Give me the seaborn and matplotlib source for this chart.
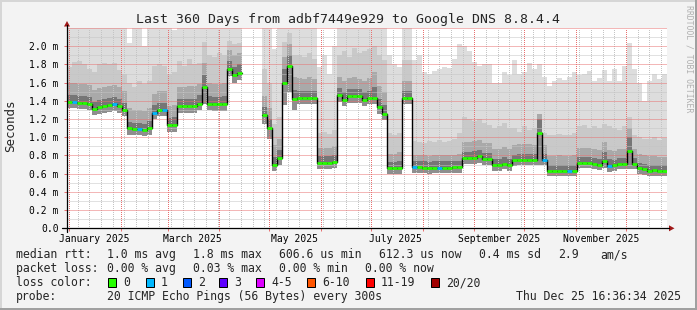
import numpy as np
import pandas as pd
import matplotlib
matplotlib.use("Agg")
import matplotlib.pyplot as plt
import seaborn as sns
from matplotlib.patches import Rectangle, Polygon
from matplotlib.lines import Line2D

nan = np.nan

# ---------------- data (3-day bins, values in ms) ----------------
START = pd.Timestamp("2024-12-30 16:36:34")
SPAN_DAYS = 360
BIN_DAYS = 3

median_ms = [
    1.39, 1.39, 1.38, 1.38, 1.37, 1.31, 1.33, 1.34, 1.35, 1.36,
    1.34, 1.30, 1.10, 1.09, 1.09, 1.08, 1.10, 1.27, 1.30, 1.30,
    1.13, 1.13, 1.34, 1.34, 1.34, 1.34, 1.37, 1.55, 1.37, 1.36,
    1.36, 1.36, 1.75, 1.68, 1.71, nan, nan, nan, nan, 1.24,
    1.10, 0.70, 0.77, 1.60, 1.78, 1.42, 1.43, 1.43, 1.43, 1.43,
    0.72, 0.72, 0.72, 0.73, 1.46, 1.41, 1.45, 1.45, 1.45, 1.41,
    1.43, 1.43, 1.33, 1.26, 0.66, 0.66, 0.66, 1.43, 1.43, 0.67,
    0.67, 0.665, 0.66, 0.665, 0.665, 0.665, 0.665, 0.67, 0.67, 0.77,
    0.77, 0.775, 0.79, 0.76, 0.76, 0.69, 0.69, 0.71, 0.69, 0.745,
    0.75, 0.75, 0.75, 0.75, 1.05, 0.75, 0.63, 0.63, 0.63, 0.63,
    0.63, 0.63, 0.715, 0.715, 0.715, 0.71, 0.70, 0.74, 0.68, 0.69,
    0.71, 0.71, 0.85, 0.71, 0.66, 0.65, 0.63, 0.635, 0.63, 0.63,
]

loss_bucket = [
    0, 1, 0, 0, 0, 0, 0, 0, 0, 1,
    0, 0, 0, 0, 1, 0, 0, 1, 0, 1,
    0, 0, 0, 0, 0, 0, 0, 0, 0, 0,
    0, 0, 0, 0, 0, 0, 0, 0, 0, 0,
    0, 0, 0, 0, 0, 0, 0, 0, 0, 0,
    0, 0, 0, 0, 0, 0, 0, 0, 0, 0,
    0, 0, 0, 0, 0, 0, 0, 0, 0, 1,
    0, 0, 0, 0, 1, 0, 0, 0, 0, 0,
    0, 0, 0, 0, 0, 0, 0, 0, 0, 0,
    0, 0, 0, 0, 0, 1, 0, 0, 0, 0,
    1, 0, 0, 0, 0, 0, 0, 0, 1, 0,
    0, 0, 0, 0, 0, 0, 0, 0, 0, 0,
]

smoke_min = [
    1.32, 1.32, 1.31, 1.31, 1.30, 1.24, 1.26, 1.27, 1.28, 1.29,
    1.27, 1.23, 1.03, 1.02, 1.02, 1.01, 1.03, 1.20, 1.23, 1.23,
    1.06, 1.06, 1.27, 1.27, 1.27, 1.27, 1.30, 1.36, 1.30, 1.29,
    1.29, 1.29, 1.67, 1.60, 1.63, nan, nan, nan, nan, 1.15,
    0.98, 0.63, 0.69, 1.35, 1.50, 1.30, 1.36, 1.36, 1.36, 1.36,
    0.65, 0.65, 0.65, 0.66, 1.39, 1.34, 1.38, 1.38, 1.38, 1.34,
    1.36, 1.36, 1.26, 1.19, 0.60, 0.60, 0.60, 1.36, 1.36, 0.61,
    0.61, 0.61, 0.60, 0.61, 0.61, 0.61, 0.61, 0.61, 0.61, 0.71,
    0.71, 0.71, 0.72, 0.70, 0.70, 0.63, 0.63, 0.65, 0.63, 0.68,
    0.69, 0.69, 0.69, 0.69, 0.70, 0.69, 0.57, 0.57, 0.57, 0.57,
    0.57, 0.57, 0.66, 0.66, 0.66, 0.65, 0.64, 0.66, 0.62, 0.63,
    0.65, 0.65, 0.65, 0.65, 0.60, 0.59, 0.57, 0.575, 0.57, 0.57,
]

smoke_dark_top = [
    1.46, 1.46, 1.45, 1.45, 1.44, 1.39, 1.41, 1.42, 1.43, 1.44,
    1.42, 1.38, 1.17, 1.16, 1.16, 1.15, 1.18, 1.35, 1.38, 1.38,
    1.21, 1.22, 1.42, 1.42, 1.42, 1.42, 1.46, 1.68, 1.45, 1.44,
    1.44, 1.45, 1.84, 1.77, 1.80, nan, nan, nan, nan, 1.33,
    1.20, 0.78, 0.86, 1.75, 1.90, 1.52, 1.51, 1.51, 1.51, 1.51,
    0.79, 0.79, 0.79, 0.80, 1.54, 1.50, 1.53, 1.53, 1.53, 1.50,
    1.51, 1.55, 1.42, 1.35, 0.73, 0.73, 0.74, 1.51, 1.51, 0.74,
    0.74, 0.735, 0.73, 0.735, 0.735, 0.735, 0.735, 0.74, 0.74, 0.84,
    0.84, 0.845, 0.86, 0.83, 0.83, 0.76, 0.76, 0.78, 0.76, 0.81,
    0.82, 0.82, 0.82, 0.82, 1.20, 0.82, 0.69, 0.69, 0.69, 0.69,
    0.69, 0.70, 0.78, 0.78, 0.78, 0.77, 0.76, 0.84, 0.76, 0.75,
    0.77, 0.77, 1.00, 0.77, 0.72, 0.71, 0.69, 0.695, 0.69, 0.69,
]

smoke_mid_top = [
    1.60, 1.60, 1.59, 1.58, 1.57, 1.52, 1.54, 1.55, 1.56, 1.57,
    1.55, 1.51, 1.32, 1.30, 1.30, 1.29, 1.32, 1.48, 1.51, 1.51,
    1.34, 1.35, 1.55, 1.55, 1.56, 1.56, 1.59, 1.82, 1.60, 1.58,
    1.58, 1.60, 1.96, 1.90, 1.93, nan, nan, nan, nan, 1.45,
    1.32, 0.92, 0.98, 1.88, 2.02, 1.66, 1.65, 1.64, 1.66, 1.64,
    0.88, 0.88, 0.88, 0.90, 1.66, 1.62, 1.65, 1.66, 1.64, 1.62,
    1.65, 1.72, 1.56, 1.50, 0.82, 0.82, 0.84, 1.62, 1.62, 0.80,
    0.80, 0.80, 0.79, 0.80, 0.80, 0.80, 0.80, 0.81, 0.82, 0.95,
    0.95, 0.96, 0.97, 0.94, 0.94, 0.87, 0.87, 0.89, 0.87, 0.92,
    0.93, 0.93, 0.93, 0.92, 1.30, 0.92, 0.79, 0.79, 0.80, 0.79,
    0.79, 0.80, 0.88, 0.88, 0.88, 0.87, 0.86, 0.95, 0.86, 0.85,
    0.87, 0.87, 1.10, 0.87, 0.82, 0.80, 0.79, 0.79, 0.78, 0.78,
]

smoke_light_top = [
    1.77, 1.83, 1.84, 1.80, 1.75, 1.72, 1.80, 1.82, 1.80, 1.82,
    1.74, 1.70, 1.60, 1.55, 1.62, 1.58, 1.62, 1.78, 1.80, 1.78,
    1.70, 1.72, 1.84, 1.78, 1.86, 1.80, 1.82, 2.05, 1.90, 1.88,
    1.92, 1.90, 2.06, 2.02, 2.04, nan, nan, nan, nan, 1.75,
    1.60, 1.15, 1.22, 2.05, 2.15, 1.90, 1.90, 1.88, 1.92, 1.86,
    1.05, 1.06, 1.04, 1.08, 1.90, 1.95, 1.88, 1.98, 1.92, 1.95,
    1.97, 2.00, 1.90, 1.85, 1.05, 1.02, 1.05, 1.85, 1.85, 0.96,
    0.95, 0.94, 0.96, 0.95, 0.97, 0.95, 0.96, 0.98, 1.05, 1.22,
    1.20, 1.18, 1.20, 1.16, 1.14, 1.10, 1.12, 1.16, 1.10, 1.10,
    1.06, 1.12, 1.08, 1.10, 1.25, 1.05, 1.02, 1.03, 1.04, 1.02,
    1.03, 1.05, 1.12, 1.14, 1.10, 1.12, 1.10, 1.15, 1.12, 1.10,
    1.08, 1.12, 1.22, 1.02, 1.00, 0.98, 0.98, 1.00, 0.97, 0.99,
]

smoke_max = [
    2.3, 2.3, 2.3, 2.3, 2.3, 2.3, 2.3, 2.3, 2.3, 2.3,
    2.3, 2.3, 2.03, 2.3, 2.3, 2.0, 2.3, 2.3, 2.3, 2.3,
    2.3, 2.18, 2.3, 2.3, 2.3, 2.3, 2.3, 2.3, 2.3, 2.3,
    2.3, 2.3, 2.3, 2.3, 2.3, nan, nan, nan, nan, 2.3,
    2.3, 1.97, 2.3, 2.3, 2.3, 2.3, 2.3, 2.3, 2.3, 2.3,
    1.77, 1.90, 1.70, 2.0, 2.3, 2.3, 2.3, 2.3, 2.3, 2.3,
    2.3, 2.3, 2.3, 2.3, 1.9, 1.8, 1.77, 2.3, 2.3, 1.85,
    1.90, 1.72, 1.70, 1.73, 1.75, 1.77, 1.76, 1.86, 2.02, 2.00,
    1.95, 1.83, 1.78, 1.80, 1.80, 1.60, 1.60, 1.72, 1.68, 1.85,
    1.70, 1.72, 1.82, 1.75, 1.80, 1.66, 1.56, 1.62, 1.65, 1.63,
    1.66, 1.72, 1.68, 1.70, 1.73, 1.62, 1.65, 1.74, 1.62, 1.75,
    1.62, 1.78, 2.04, 1.75, 1.60, 1.40, 1.62, 1.69, 1.64, 1.70,
]

title = "Last 360 Days from adbf7449e929 to Google DNS 8.8.4.4"
ytick_values = [0.0, 0.2, 0.4, 0.6, 0.8, 1.0, 1.2, 1.4, 1.6, 1.8, 2.0]
ytick_labels = ["0.0", "0.2 m", "0.4 m", "0.6 m", "0.8 m", "1.0 m",
                "1.2 m", "1.4 m", "1.6 m", "1.8 m", "2.0 m"]
label_months = ["2025-01", "2025-03", "2025-05", "2025-07", "2025-09", "2025-11"]
month_labels = ["January 2025", "March 2025", "May 2025", "July 2025",
                "September 2025", "November 2025"]

rtt_items = ["1.0 ms avg", "1.8 ms max", "606.6 us min", "612.3 us now",
             "0.4 ms sd", "2.9", "am/s"]
loss_items = ["0.00 % avg", "0.03 % max", "0.00 % min", "0.00 % now"]
loss_names = ["0", "1", "2", "3", "4-5", "6-10", "11-19", "20/20"]
loss_colors = ["#26ff00", "#00b8ff", "#0059ff", "#5e00ff", "#dd00ff",
               "#ff5500", "#ff0000", "#a10000"]
probe_text = "20 ICMP Echo Pings (56 Bytes) every 300s"
stamp_text = "Thu Dec 25 16:36:34 2025"

# ---------------- figure ----------------
W, H = 697, 310
sns.set_theme(style="white")
plt.rcParams["font.family"] = ["DejaVu Sans Mono", "DejaVu Sans"]

BG = "#f3f3f3"
GRID_MINOR = "#c4c4c4"
GRID_MAJOR = "#e87070"
fig = plt.figure(figsize=(W / 100, H / 100), dpi=100, facecolor=BG)


def fx(px):
    return px / W


def fy(py):
    return 1 - py / H


AX_L, AX_R, AX_T, AX_B = 67, 667, 28.0, 228.3
ax = fig.add_axes([fx(AX_L), fy(AX_B), (AX_R - AX_L) / W, (AX_B - AX_T) / H])
ax.set_facecolor("white")
for s in ax.spines.values():
    s.set_visible(False)

n = len(median_ms)
left = np.arange(n) * BIN_DAYS
med = np.asarray(median_ms, float)
valid = ~np.isnan(med)

# smoke layers
layers = [
    (smoke_min, median_ms, "#8e8e8e"),
    (median_ms, smoke_dark_top, "#767676"),
    (smoke_dark_top, smoke_mid_top, "#a9a9a9"),
    (smoke_mid_top, smoke_light_top, "#c9c9c9"),
    (smoke_light_top, smoke_max, "#dddddd"),
]
for lo_v, hi_v, col in layers:
    lo_a = np.asarray(lo_v, float)[valid]
    hi_a = np.asarray(hi_v, float)[valid]
    ax.bar(left[valid], hi_a - lo_a, bottom=lo_a, width=BIN_DAYS, align="edge",
           color=col, linewidth=0, antialiased=False, zorder=1)


def to_day(ts):
    return (ts - START) / pd.Timedelta(days=1)


# grid (dotted)
DOT_V = (0, (1, 1.4))
DOT_H = (0, (1, 1))
mondays = pd.date_range("2025-01-06", "2025-12-22", freq="7D")
month_starts = pd.date_range("2025-01-01", "2025-12-01", freq="MS")
for d in mondays:
    ax.axvline(to_day(d), color=GRID_MINOR, lw=0.72, ls=DOT_V, zorder=2, snap=True,
               antialiased=False)
for v in np.arange(0.1, 2.2, 0.2):
    ax.axhline(v, color=GRID_MINOR, lw=0.72, ls=DOT_H, zorder=2, snap=True)
for d in month_starts:
    ax.axvline(to_day(d), color=GRID_MAJOR, lw=0.72, ls=DOT_V, zorder=2.5, snap=True,
               antialiased=False)
for v in ytick_values[1:] + [2.2]:
    ax.axhline(v, color=GRID_MAJOR, lw=0.72, ls=DOT_H, zorder=2.5, snap=True)

# median: black step connector + loss coloured segments
idx = np.where(valid)[0]
runs = np.split(idx, np.where(np.diff(idx) != 1)[0] + 1)
for r in runs:
    xs = np.append(left[r], left[r[-1]] + BIN_DAYS)
    ys = np.append(med[r], med[r[-1]])
    sns.lineplot(x=xs, y=ys, ax=ax, color="black", lw=1.0, drawstyle="steps-post",
                 estimator=None, sort=False, zorder=4)
seg_cols = [loss_colors[loss_bucket[i]] for i in idx]
ax.hlines(med[idx], left[idx], left[idx] + BIN_DAYS, colors=seg_cols, lw=2.0, zorder=5)

ax.set_xlim(0, SPAN_DAYS)
ax.set_ylim(0, 2.2)
ax.set_xlabel("")
ax.set_ylabel("")

# ticks
ax.set_yticks(ytick_values, ytick_labels)
ax.tick_params(axis="y", which="major", left=True, length=2.5, width=0.72,
               color=GRID_MAJOR, pad=3.6, labelsize=7, labelcolor="black")
ax.set_xticks([to_day(d) for d in month_starts], [""] * len(month_starts))
label_pos = [to_day(pd.Timestamp(m + "-16")) for m in label_months]
ax.set_xticks(label_pos, month_labels, minor=True)
ax.tick_params(axis="x", which="major", bottom=True, length=2.5, width=0.72,
               color=GRID_MAJOR)
ax.tick_params(axis="x", which="minor", bottom=True, length=0, pad=4.3,
               labelsize=7, labelcolor="black")

# axis lines and arrows
fig.add_artist(Line2D([fx(62), fx(669)], [fy(AX_B)] * 2, color="black", lw=0.9))
fig.add_artist(Line2D([fx(AX_L)] * 2, [fy(232), fy(25)], color="black", lw=0.9))
ARW = "#a01818"
fig.add_artist(Polygon([(fx(669), fy(225.3)), (fx(669), fy(231.3)), (fx(674.5), fy(228.3))],
                       closed=True, transform=fig.transFigure, color=ARW, lw=0))
fig.add_artist(Polygon([(fx(64), fy(26.5)), (fx(70), fy(26.5)), (fx(67), fy(21))],
                       closed=True, transform=fig.transFigure, color=ARW, lw=0))

# texts
fig.text(fx(348), fy(23.5), title, ha="center", va="baseline", fontsize=9.5)
fig.text(fx(11), fy(126), "Seconds", rotation=90, ha="center", va="center", fontsize=9)
fig.text(fx(688.5), fy(5), "RRDTOOL / TOBI OETIKER", rotation=270, ha="center",
         va="top", fontsize=5.9, color="#b0b0b0")

LFS = 8.3
rows = [258.3, 272.2, 286.1, 300.0]
fig.text(fx(16), fy(rows[0]), "median rtt:", fontsize=LFS, va="baseline")
for xp, t in zip([107.3, 193.3, 279.3, 379.3, 479.3, 558.3, 600], rtt_items):
    fig.text(fx(xp), fy(rows[0]), t, fontsize=LFS, va="baseline")
fig.text(fx(16), fy(rows[1]), "packet loss:", fontsize=LFS, va="baseline")
for xp, t in zip([107.3, 193.3, 279.3, 365], loss_items):
    fig.text(fx(xp), fy(rows[1]), t, fontsize=LFS, va="baseline")
fig.text(fx(16), fy(rows[2]), "loss color:", fontsize=LFS, va="baseline")
box_x = [108, 145.7, 182.7, 219.3, 256, 307.3, 365.7, 430.7]
for bx, name, col in zip(box_x, loss_names, loss_colors):
    fig.add_artist(Rectangle((fx(bx), fy(286.7)), 8 / W, 9 / H, transform=fig.transFigure,
                             facecolor=col, edgecolor="black", lw=0.72))
    fig.text(fx(bx + 15.3), fy(rows[2]), name, fontsize=LFS, va="baseline")
fig.text(fx(16), fy(rows[3]), "probe:", fontsize=LFS, va="baseline")
fig.text(fx(107.3), fy(rows[3]), probe_text, fontsize=LFS, va="baseline")
fig.text(fx(680.5), fy(rows[3]), stamp_text, fontsize=LFS, va="baseline", ha="right")

# frame shading
fig.add_artist(Rectangle((0, 1 - 2 / H), 1, 2 / H, transform=fig.transFigure, color="#d6d6d6", lw=0))
fig.add_artist(Rectangle((0, 0), 2 / W, 1, transform=fig.transFigure, color="#d6d6d6", lw=0))
fig.add_artist(Rectangle((0, 0), 1, 2.5 / H, transform=fig.transFigure, color="#a0a0a0", lw=0))
fig.add_artist(Rectangle((1 - 2 / W, 0), 2 / W, 1, transform=fig.transFigure, color="#a0a0a0", lw=0))

fig.savefig("out.png", dpi=100, facecolor=fig.get_facecolor())
